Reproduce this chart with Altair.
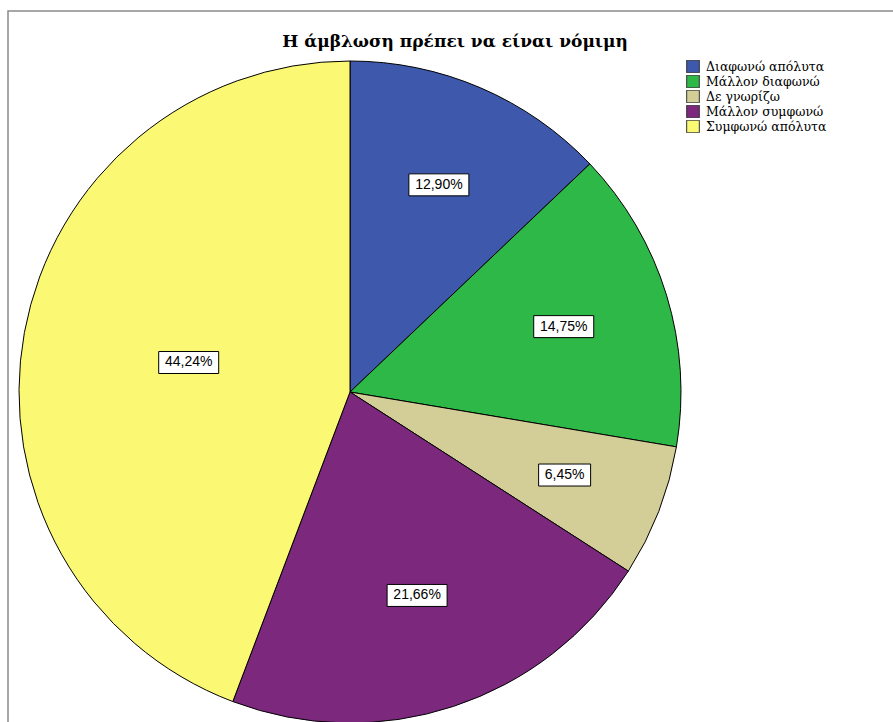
import altair as alt
import pandas as pd

TITLE = ["Η άμβλωση πρέπει να είναι νόμιμη"]
categories = ["Διαφωνώ απόλυτα", "Μάλλον διαφωνώ", "Δε γνωρίζω", "Μάλλον συμφωνώ", "Συμφωνώ απόλυτα"]
percents = [12.90, 14.75, 6.45, 21.66, 44.24]
labels = ["12,90%", "14,75%", "6,45%", "21,66%", "44,24%"]
colors = ["#3E58AC", "#2EB848", "#D3CE97", "#7C287D", "#FBF873"]

df = pd.DataFrame({"cat": categories, "pct": percents, "label": labels, "order": list(range(len(categories)))})
tdf = pd.DataFrame({"t": TITLE})

CX, CY, R = 350, 392, 331

frame = alt.Chart(tdf).mark_rect(fill="white", fillOpacity=0, stroke="#8a8a8a", strokeWidth=1.5).encode(
    x=alt.value(8), y=alt.value(11), x2=alt.value(910), y2=alt.value(760)
)

pie = alt.Chart(df).mark_arc(outerRadius=R, stroke="black", strokeWidth=1).encode(
    theta=alt.Theta("pct:Q", stack=True),
    color=alt.Color(
        "cat:N",
        scale=alt.Scale(domain=categories, range=colors),
        sort=categories,
        legend=alt.Legend(
            title=None, orient="none", legendX=686, legendY=60,
            symbolType="square", symbolSize=160, symbolStrokeColor="#333333", symbolStrokeWidth=1,
            symbolOpacity=1, labelFont="DejaVu Serif", labelFontSize=12.5, labelColor="black",
            rowPadding=2, clipHeight=13, labelOffset=6, padding=0, labelLimit=300,
        ),
    ),
    order=alt.Order("order:Q"),
    x=alt.value(CX), y=alt.value(CY),
)

lab = alt.Chart(df).transform_window(
    cum="sum(pct)", sort=[alt.SortField("order")], frame=[None, 0]
).transform_calculate(
    mid="(datum.cum - datum.pct / 2) / 100 * 2 * PI",
    half="datum.pct / 100 * PI",
).transform_calculate(
    d=f"1.05 * 2 * {R} * sin(datum.half) / (3 * datum.half)",
).transform_calculate(
    lx=f"{CX} + datum.d * sin(datum.mid)",
    ly=f"{CY} - datum.d * cos(datum.mid)",
    bw="datum.label.length * 8 + 12",
).transform_calculate(
    bx1="datum.lx - datum.bw / 2",
    bx2="datum.lx + datum.bw / 2",
    by1="datum.ly - 11",
    by2="datum.ly + 11",
)

boxes = lab.mark_rect(fill="white", stroke="black", strokeWidth=1).encode(
    x=alt.X("bx1:Q", scale=None), x2="bx2:Q",
    y=alt.Y("by1:Q", scale=None), y2="by2:Q",
)

texts = lab.mark_text(font="Liberation Sans", fontSize=14, align="center", baseline="middle", color="black").encode(
    x=alt.X("lx:Q", scale=None), y=alt.Y("ly:Q", scale=None), text="label:N"
)

title = alt.Chart(tdf).mark_text(
    font="DejaVu Serif", fontSize=17, fontWeight="bold", align="center", baseline="alphabetic", color="black"
).encode(x=alt.value(455), y=alt.value(47), text="t:N")

chart = alt.layer(frame, pie, boxes, texts, title).properties(
    width=893, height=722, padding=0, autosize="none", background="white"
).configure_view(stroke=None)

chart.save("out.html", embed_options={"renderer": "svg", "actions": False})
